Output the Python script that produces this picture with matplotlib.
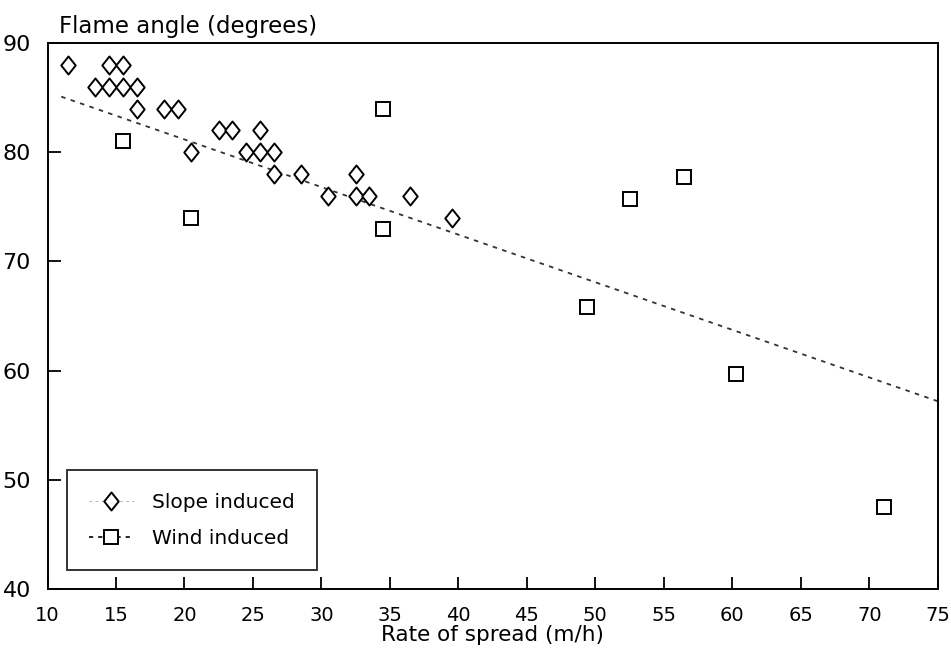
import numpy as np
import matplotlib
matplotlib.use("Agg")
import matplotlib.pyplot as plt
from matplotlib.path import Path

# Slope induced fires (diamonds)
slope_x = [11.5, 14.5, 15.5, 13.5, 14.5, 15.5, 16.5, 16.5, 18.5, 19.5,
           22.5, 23.5, 25.5, 20.5, 24.5, 25.5, 26.5, 26.5, 28.5, 32.5,
           30.5, 32.5, 33.5, 36.5, 39.5]
slope_y = [88, 88, 88, 86, 86, 86, 86, 84, 84, 84,
           82, 82, 82, 80, 80, 80, 80, 78, 78, 78,
           76, 76, 76, 76, 74]

# Wind induced fires (squares)
wind_x = [15.5, 20.5, 34.5, 34.5, 49.4, 52.5, 56.5, 60.3, 71.1]
wind_y = [81.0, 74.0, 84.0, 73.0, 65.8, 75.7, 77.7, 59.7, 47.5]

# fitted line end points
fit_x = [11.0, 75.0]
fit_y = [85.1, 57.2]

xticks = list(range(10, 80, 5))
yticks = list(range(40, 100, 10))

plt.rcParams['font.family'] = ['DejaVu Sans']

fig = plt.figure(figsize=(9.51, 6.64), dpi=100)
ax = fig.add_axes([0.050, 0.113, 0.936, 0.822])

diamond = Path([(0, 1), (0.8, 0), (0, -1), (-0.8, 0), (0, 1)],
               [Path.MOVETO, Path.LINETO, Path.LINETO, Path.LINETO, Path.CLOSEPOLY])

ax.plot(fit_x, fit_y, color='#333333', linestyle=(0, (2.5, 3)), linewidth=1.3)
ax.plot(slope_x, slope_y, linestyle='none', marker=diamond, markersize=13,
        markerfacecolor='white', markeredgecolor='black', markeredgewidth=1.4)
ax.plot(wind_x, wind_y, linestyle='none', marker='s', markersize=10.5,
        markerfacecolor='white', markeredgecolor='black', markeredgewidth=1.4)

# legend handles
h1, = ax.plot([], [], color='#bbbbbb', linestyle=(0, (2.5, 3)), linewidth=0.8,
              marker=diamond, markersize=13, markerfacecolor='white',
              markeredgecolor='black', markeredgewidth=1.4, label='Slope induced')
h2, = ax.plot([], [], color='black', linestyle=(0, (2.5, 3)), linewidth=1.2,
              marker='s', markersize=10.5, markerfacecolor='white',
              markeredgecolor='black', markeredgewidth=1.4, label='Wind induced')
leg = ax.legend(handles=[h1, h2], loc='lower left', bbox_to_anchor=(0.022, 0.035),
                fontsize=14.5, frameon=True, fancybox=False, edgecolor='black',
                handlelength=2.2, labelspacing=0.85, borderpad=1.1,
                handletextpad=0.9, borderaxespad=0)
leg.get_frame().set_linewidth(1.4)

ax.set_xlim(10, 75)
ax.set_ylim(40, 90)
ax.set_xticks(xticks)
ax.set_yticks(yticks)
ax.tick_params(axis='both', direction='in', length=9, width=1.3,
               top=False, right=False)
ax.tick_params(axis='x', labelsize=14, pad=12)
ax.tick_params(axis='y', labelsize=16, pad=12)

for s in ax.spines.values():
    s.set_linewidth(1.4)

ax.set_xlabel('Rate of spread (m/h)', fontsize=15.5, labelpad=0)
ax.text(0.013, 1.01, 'Flame angle (degrees)', transform=ax.transAxes,
        fontsize=16.5, ha='left', va='bottom')

fig.savefig('out.png', dpi=100)
